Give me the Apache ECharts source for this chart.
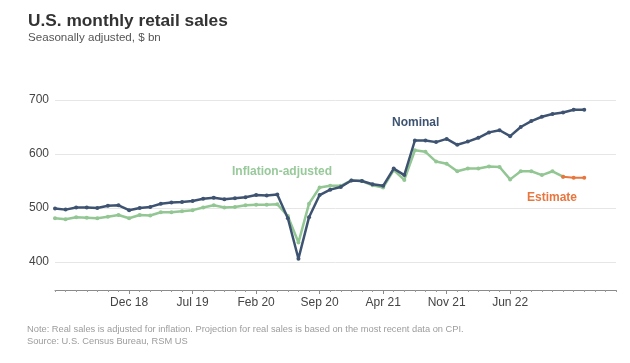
<!DOCTYPE html>
<html><head><meta charset="utf-8">
<script src="https://cdn.jsdelivr.net/npm/echarts@6/dist/echarts.min.js"></script>
<style>html,body{margin:0;padding:0;background:#fff}#c{width:630px;height:363px}</style>
</head><body><div id="c"></div>
<script>
// Monthly categories, May 2018 – Oct 2022 (last three have no data; axis runs past the data)
const months = ['May 18','Jun 18','Jul 18','Aug 18','Sep 18','Oct 18','Nov 18','Dec 18',
  'Jan 19','Feb 19','Mar 19','Apr 19','May 19','Jun 19','Jul 19','Aug 19','Sep 19','Oct 19','Nov 19','Dec 19',
  'Jan 20','Feb 20','Mar 20','Apr 20','May 20','Jun 20','Jul 20','Aug 20','Sep 20','Oct 20','Nov 20','Dec 20',
  'Jan 21','Feb 21','Mar 21','Apr 21','May 21','Jun 21','Jul 21','Aug 21','Sep 21','Oct 21','Nov 21','Dec 21',
  'Jan 22','Feb 22','Mar 22','Apr 22','May 22','Jun 22','Jul 22','Aug 22','Sep 22','Oct 22'];
// Tick labels as printed on the reference axis (one every 6 points, starting at the 8th)
const tickLabels = ['Dec 18','Jul 19','Feb 20','Sep 20','Apr 21','Nov 21','Jun 22'];
const tickFirst = 7, tickStep = 6;
const yTicks = [400, 500, 600, 700];
// Nominal retail sales, $ bn
const nominal = [499,497,501,501,500,504,505,496,500,502,508,510,511,513,517,519,516,518,520,524,523,525,
  481,406,483,524,534,539,551,550,544,541,573,561,625,625,622,628,617,623,630,640,644,633,650,661,669,674,677,682,682];
// Inflation-adjusted retail sales, $ bn
const real = [481,479,483,482,481,484,487,481,487,486,492,492,494,496,501,505,501,502,505,506,506,507,
  485,436,508,538,541,541,551,550,542,538,570,552,607,604,586,582,568,573,573,577,576,553,568,568,561,568,558];
// Estimate (starts from last real value)
const estimateStart = 48;
const estimate = [558,556,556];

const isTick = i => i >= tickFirst && (i - tickFirst) % tickStep === 0 && (i - tickFirst) / tickStep < tickLabels.length;
const pad = (arr, start) => months.map((m, i) => (i >= start && i - start < arr.length) ? arr[i - start] : null);

const FONT = '"Liberation Sans", Arial, sans-serif';
const chart = echarts.init(document.getElementById('c'), null, {renderer:'canvas'});
chart.setOption({
  animation:false,
  backgroundColor:'#fff',
  title:{
    text:'U.S. monthly retail sales',
    subtext:'Seasonally adjusted, $ bn',
    left:28, top:13, itemGap:2, padding:0,
    textStyle:{fontFamily:FONT,fontSize:17.3,fontWeight:'bold',color:'#333'},
    subtextStyle:{fontFamily:FONT,fontSize:11.6,color:'#555'}
  },
  grid:{left:55,right:14,top:100,bottom:47},
  xAxis:[{
    type:'category', data:months, boundaryGap:false, position:'bottom', offset:-26,
    axisLine:{show:true,lineStyle:{color:'#8a8a8a',width:1}},
    axisTick:{show:true,interval:0,length:2,lineStyle:{color:'#9a9a9a'}},
    splitLine:{show:false},
    axisLabel:{show:false}
  },{
    type:'category', data:months, boundaryGap:false, position:'bottom', offset:-26,
    axisLine:{show:false},
    axisTick:{show:true,length:4,interval:(i)=>isTick(i),lineStyle:{color:'#8a8a8a'}},
    splitLine:{show:false},
    axisLabel:{
      interval:(i)=>isTick(i), margin:7,
      fontFamily:FONT,fontSize:12,color:'#444',
      formatter:function(v, i){ return isTick(i) ? tickLabels[(i - tickFirst) / tickStep] : ''; }
    }
  }],
  yAxis:{
    type:'value', min:300, max:700, interval:100,
    axisLine:{show:false}, axisTick:{show:false},
    splitLine:{show:true, showMinLine:false, lineStyle:{color:'#e6e6e6',width:1}},
    axisLabel:{showMinLabel:false, margin:6, fontFamily:FONT,fontSize:12,color:'#444',
      formatter:function(v){ return yTicks.indexOf(v)>=0 ? String(v) : ''; }}
  },
  series:[
    {type:'line', name:'Inflation-adjusted', data:pad(real,0),
      symbol:'circle', symbolSize:4, showAllSymbol:true,
      lineStyle:{color:'#92c693',width:2.5}, itemStyle:{color:'#92c693'}, z:2},
    {type:'line', name:'Estimate', data:pad(estimate,estimateStart),
      symbol:'circle', symbolSize:4, showAllSymbol:true,
      lineStyle:{color:'#e8763f',width:2}, itemStyle:{color:'#e8763f'}, z:3},
    {type:'line', name:'Nominal', data:pad(nominal,0),
      symbol:'circle', symbolSize:4, showAllSymbol:true,
      lineStyle:{color:'#3e5371',width:2.5}, itemStyle:{color:'#3e5371'}, z:4}
  ],
  graphic:[
    {type:'text', left:392, top:117, style:{text:'Nominal', fontFamily:FONT, fontSize:12, fontWeight:'bold', fill:'#3e5371'}},
    {type:'text', left:232, top:166, style:{text:'Inflation-adjusted', fontFamily:FONT, fontSize:12, fontWeight:'bold', fill:'#98c99a'}},
    {type:'text', left:527, top:192, style:{text:'Estimate', fontFamily:FONT, fontSize:12, fontWeight:'bold', fill:'#e8763f'}},
    {type:'text', left:27, top:325, style:{text:'Note: Real sales is adjusted for inflation. Projection for real sales is based on the most recent data on CPI.', fontFamily:FONT, fontSize:9.3, fill:'#9c9c9c'}},
    {type:'text', left:27, top:337, style:{text:'Source: U.S. Census Bureau, RSM US', fontFamily:FONT, fontSize:9.3, fill:'#9c9c9c'}}
  ]
});
</script></body></html>
